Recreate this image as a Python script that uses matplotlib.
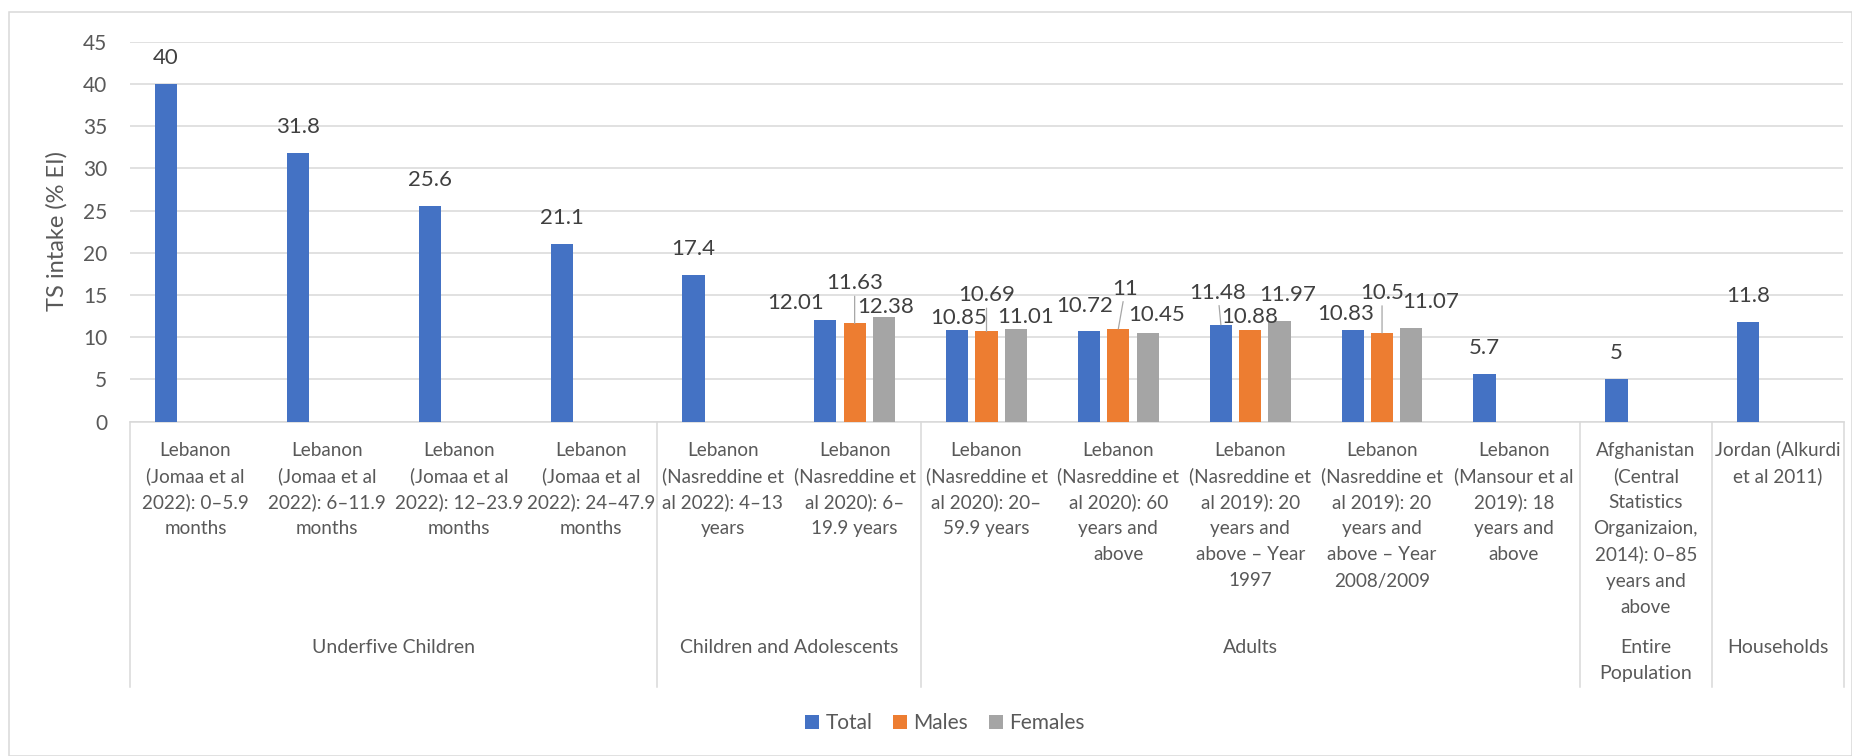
import numpy as np
import matplotlib
matplotlib.use("Agg")
import matplotlib.pyplot as plt
from matplotlib.patches import Patch, Rectangle
from matplotlib.lines import Line2D
from matplotlib.transforms import blended_transform_factory

# ---- data -------------------------------------------------------------
categories = [
    "Lebanon\n(Jomaa et al\n2022): 0–5.9\nmonths",
    "Lebanon\n(Jomaa et al\n2022): 6–11.9\nmonths",
    "Lebanon\n(Jomaa et al\n2022): 12–23.9\nmonths",
    "Lebanon\n(Jomaa et al\n2022): 24–47.9\nmonths",
    "Lebanon\n(Nasreddine et\nal 2022): 4–13\nyears",
    "Lebanon\n(Nasreddine et\nal 2020): 6–\n19.9 years",
    "Lebanon\n(Nasreddine et\nal 2020): 20–\n59.9 years",
    "Lebanon\n(Nasreddine et\nal 2020): 60\nyears and\nabove",
    "Lebanon\n(Nasreddine et\nal 2019): 20\nyears and\nabove – Year\n1997",
    "Lebanon\n(Nasreddine et\nal 2019): 20\nyears and\nabove – Year\n2008/2009",
    "Lebanon\n(Mansour et al\n2019): 18\nyears and\nabove",
    "Afghanistan\n(Central\nStatistics\nOrganizaion,\n2014): 0–85\nyears and\nabove",
    "Jordan (Alkurdi\net al 2011)",
]
groups = ["Underfive Children", "Children and Adolescents", "Adults",
          "Entire\nPopulation", "Households"]
group_sizes = [4, 2, 5, 1, 1]

nan = np.nan
total = [40, 31.8, 25.6, 21.1, 17.4, 12.01, 10.85, 10.72, 11.48, 10.83, 5.7, 5, 11.8]
males = [nan, nan, nan, nan, nan, 11.63, 10.69, 11, 10.88, 10.5, nan, nan, nan]
females = [nan, nan, nan, nan, nan, 12.38, 11.01, 10.45, 11.97, 11.07, nan, nan, nan]
series_names = ["Total", "Males", "Females"]

# ---- style ------------------------------------------------------------
colors = ["#4472C4", "#ED7D31", "#A5A5A5"]
grid_c = "#D9D9D9"
text_c = "#595959"
label_c = "#404040"
plt.rcParams["font.family"] = ["Lato", "DejaVu Sans"]

W, H = 1852, 756
fig = plt.figure(figsize=(W / 100, H / 100), dpi=100)
fig.patch.set_facecolor("white")

px_left, px_right, px_top, px_zero = 129.5, 1843.5, 41.7, 421.7
ax = fig.add_axes([px_left / W, 1 - px_zero / H,
                   (px_right - px_left) / W, (px_zero - px_top) / H])


def fy(py):
    """Figure fraction for a pixel row counted from the top."""
    return 1 - py / H


n = len(categories)
x = np.arange(n)
bar_w = 0.169
pitch = 0.2223
offsets = [-pitch, 0, pitch]
all_series = [total, males, females]

for s, (vals, off, col) in enumerate(zip(all_series, offsets, colors)):
    ax.bar(x + off, vals, width=bar_w, color=col, zorder=3,
           label=series_names[s])

ax.set_xlim(-0.5, n - 0.5)
ax.set_ylim(0, 45)
ax.set_yticks(np.arange(0, 46, 5))
ax.yaxis.grid(True, color=grid_c, linewidth=1.1, zorder=0)
ax.set_axisbelow(True)
for sp in ["top", "right", "left"]:
    ax.spines[sp].set_visible(False)
ax.spines["bottom"].set_color(grid_c)
ax.spines["bottom"].set_linewidth(1.1)
ax.set_xticks([])
ax.tick_params(axis="y", length=0, pad=16, labelsize=15, labelcolor=text_c)

# data labels: (series, category) -> (dx px, dy px, leader line)
label_pos = {
    (0, 5): (-30, 17, False), (1, 5): (0, 40, True), (2, 5): (2, 10, False),
    (0, 6): (1, 12, False), (1, 6): (0, 36, True), (2, 6): (10, 12, False),
    (0, 7): (-4, 25, False), (1, 7): (7, 40, True), (2, 7): (9, 18, False),
    (0, 8): (-3, 32, True), (1, 8): (0, 13, False), (2, 8): (8, 26, False),
    (0, 9): (-7, 16, False), (1, 9): (0, 40, True), (2, 9): (19, 26, False),
}
for s, (vals, off) in enumerate(zip(all_series, offsets)):
    for i, v in enumerate(vals):
        if np.isnan(v):
            continue
        dx, dy, leader = label_pos.get((s, i), (0, 26, False))
        kw = {}
        if leader:
            kw["arrowprops"] = dict(arrowstyle="-", color="#A6A6A6", lw=0.9,
                                    shrinkA=0, shrinkB=0)
        ax.annotate(f"{v:g}", xy=(i + off, v), xytext=(dx, dy),
                    textcoords="offset pixels", ha="center", va="center",
                    fontsize=16, color=label_c, zorder=5, **kw)

# category labels, one line at a time
tr = blended_transform_factory(ax.transData, fig.transFigure)
line_step = 26.2
for i, lab in enumerate(categories):
    for k, line in enumerate(lab.split("\n")):
        ax.text(i, fy(455.5 + k * line_step), line, transform=tr,
                ha="center", va="baseline", fontsize=13.6, color=text_c)

# group labels and separators
box_bottom = 686.7
start = 0
bounds = [-0.5]
for g, size in zip(groups, group_sizes):
    centre = start + (size - 1) / 2
    for k, line in enumerate(g.split("\n")):
        ax.text(centre, fy(653 + k * line_step), line, transform=tr,
                ha="center", va="baseline", fontsize=14, color=text_c)
    start += size
    bounds.append(start - 0.5)
for b in bounds:
    ax.add_line(Line2D([b, b], [fy(px_zero), fy(box_bottom)], transform=tr,
                       color=grid_c, linewidth=1.1, clip_on=False))

# axis title
fig.text(57 / W, fy(231), "TS intake (% EI)", rotation=90, ha="center",
         va="center", fontsize=17, color=text_c)

# legend
handles = [Patch(facecolor=c, edgecolor="none") for c in colors]
fig.legend(handles, series_names, loc="center", bbox_to_anchor=(945 / W, fy(723)),
           ncol=3, frameon=False, fontsize=15, handlelength=0.67,
           handleheight=0.67, handletextpad=0.3, columnspacing=1.0,
           labelcolor=text_c)

# chart border
fig.add_artist(Rectangle((8.5 / W, 0), (W - 8.5) / W, fy(12),
                         transform=fig.transFigure, fill=False,
                         edgecolor=grid_c, linewidth=1.1))

fig.savefig("out.png", dpi=100, facecolor="white")
